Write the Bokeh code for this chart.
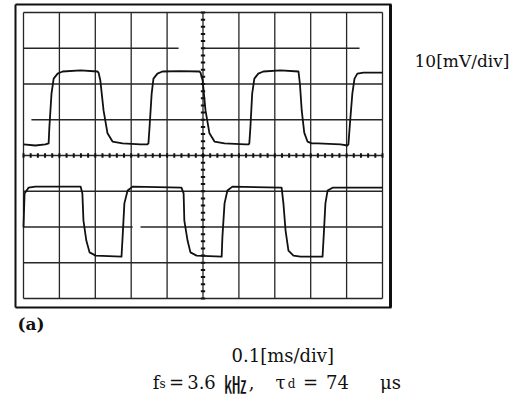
from bokeh.plotting import figure
from bokeh.models import Range1d
from bokeh.core.properties import value
from bokeh.embed import file_html
from bokeh.resources import INLINE

# Oscilloscope traces: time in µs (0.1 ms/div), amplitude in mV (10 mV/div)
upper_t = [0, 33, 61, 70, 72, 78, 84, 95, 109, 159, 206, 209, 214, 223, 234, 248, 276, 326, 345,
           348, 351, 357, 362, 373, 387, 437, 490, 493, 499, 507, 518, 532, 560, 618, 627,
           629, 632, 637, 643, 654, 668, 716, 766, 770, 775, 782, 791, 803, 819, 883, 902,
           905, 910, 916, 922, 930, 947, 1000]
upper_mv = [3.1, 2.8, 3.1, 3.4, 7.8, 17.3, 21.5, 22.9, 23.5, 23.8, 23.5, 23.2, 21.0, 12.6, 6.2, 3.9, 3.4, 3.1, 3.1,
            3.4, 7.8, 17.3, 21.5, 22.9, 23.5, 23.6, 23.5, 23.2, 21.0, 12.6, 6.2, 3.9, 3.4, 3.1, 3.1,
            3.4, 7.8, 17.3, 21.5, 22.9, 23.5, 23.8, 23.5, 20.0, 12.6, 6.4, 3.9, 3.4, 3.4, 3.1, 2.8,
            3.1, 9.8, 17.3, 21.5, 22.9, 23.2, 23.2]

lower_t = [0, 3, 14, 33, 159, 164, 167, 175, 184, 201, 273, 276, 281, 290, 304,
           440, 446, 448, 457, 465, 482, 552, 554, 560, 568, 582,
           719, 724, 730, 738, 752, 772, 833, 836, 841, 847, 861, 1000]
lower_mv = [-20.1, -10.6, -9.0, -8.7, -8.7, -10.6, -18.2, -23.8, -27.1, -28.0, -28.3, -22.9, -13.4, -9.8, -8.7,
            -9.0, -10.6, -18.2, -23.8, -27.1, -28.0, -28.3, -22.9, -13.4, -9.8, -8.7,
            -9.0, -13.4, -21.0, -26.6, -28.0, -28.3, -28.3, -22.9, -13.4, -9.8, -9.0, -9.0]

# graticule divisions and minor marks on the centre cross
grid_t = [0, 100, 200, 300, 400, 500, 600, 700, 800, 900, 1000]
grid_mv = [-40, -30, -20, -10, 0, 10, 20, 30, 40]
minor_t = list(range(0, 1001, 20))
minor_mv = list(range(-40, 41, 2))

# horizontal graticule lines drawn as runs (worn screen print leaves a few breaks)
hrun_mv = [40, 30, 30, 20, 10, 0, -10, -20, -20, -30, -40]
hrun_t0 = [0, 0, 501, 0, 22, 0, 0, 0, 326, 0, 0]
hrun_t1 = [1000, 432, 936, 1000, 1000, 1000, 1000, 304, 1000, 1000, 1000]

# screen geometry of the graticule (pixels per division, origin)
X0_PX, XDIV_PX = 23.0, 35.9
Y0_PX, YDIV_PX = 155.0, 35.75


def t_of(px):
    return (px - X0_PX) * 100.0 / XDIV_PX


def mv_of(py):
    return (Y0_PX - py) * 10.0 / YDIV_PX


W, H = 521, 402
p = figure(width=W, height=H, output_backend="svg", toolbar_location=None,
           x_range=Range1d(t_of(0), t_of(W)), y_range=Range1d(mv_of(H), mv_of(0)),
           x_axis_location=None, y_axis_location=None, min_border=0)
p.xgrid.visible = False
p.ygrid.visible = False
p.outline_line_color = None
p.background_fill_color = "white"
p.border_fill_color = "white"

ink = "#111111"

# outer bezel
p.segment(x0=[t_of(15)], y0=[mv_of(4)], x1=[t_of(15)], y1=[mv_of(307)], line_color=ink, line_width=2)
p.segment(x0=[t_of(15)], y0=[mv_of(4)], x1=[t_of(391)], y1=[mv_of(4)], line_color=ink, line_width=2)
p.segment(x0=[t_of(15)], y0=[mv_of(307)], x1=[t_of(391)], y1=[mv_of(307)], line_color=ink, line_width=2)
p.segment(x0=[t_of(390)], y0=[mv_of(4)], x1=[t_of(390)], y1=[mv_of(307)], line_color=ink, line_width=3)

# graticule
p.segment(x0=grid_t, y0=grid_mv[0], x1=grid_t, y1=grid_mv[-1], line_color="#262626", line_width=1.3)
p.segment(x0=hrun_t0, y0=hrun_mv, x1=hrun_t1, y1=hrun_mv, line_color="#262626", line_width=1.3)
p.segment(x0=minor_t, y0=-0.6, x1=minor_t, y1=0.6, line_color=ink, line_width=2)
p.segment(x0=500 - 6, y0=minor_mv, x1=500 + 6, y1=minor_mv, line_color=ink, line_width=2)

# traces
p.line(upper_t, upper_mv, line_color=ink, line_width=1.8, line_join="round")
p.line(lower_t, lower_mv, line_color=ink, line_width=1.8, line_join="round")

serif = value("DejaVu Serif")
p.text(x=[t_of(414)], y=[mv_of(60)], text=["10[mV/div]"], text_font=serif,
       text_font_size="17px", text_baseline="alphabetic", text_color=ink)
p.text(x=[t_of(17)], y=[mv_of(323)], text=["(a)"], text_font=serif, text_font_style="bold",
       text_font_size="17px", text_baseline="alphabetic", text_color=ink)
p.text(x=[t_of(231)], y=[mv_of(355)], text=["0.1[ms/div]"], text_font=serif,
       text_font_size="18px", text_baseline="alphabetic", text_color=ink)

# caption line: main pieces, subscripts and the kHz unit glyph
cap_x = [155.5, 176, 201, 251, 280, 310, 337, 390]
p.text(x=[t_of(v) for v in cap_x], y=[mv_of(381.5)] * 8,
       text=["f", "=", "3.6", ",", "τ", "=", "74", "μs"], text_align="center",
       text_font=serif, text_font_size="18px", text_baseline="alphabetic", text_color=ink)
p.text(x=[t_of(162), t_of(291)], y=[mv_of(383)] * 2, text=["s", "d"], text_align="center",
       text_font=serif, text_font_size="12px", text_baseline="alphabetic", text_color=ink)
p.text(x=[t_of(234.5)], y=[mv_of(382)], text=["㎑"], text_align="center",
       text_font=value("Noto Sans CJK KR"),
       text_font_size="23px", text_baseline="alphabetic", text_color=ink)

open("out.html", "w").write(file_html(p, INLINE))
